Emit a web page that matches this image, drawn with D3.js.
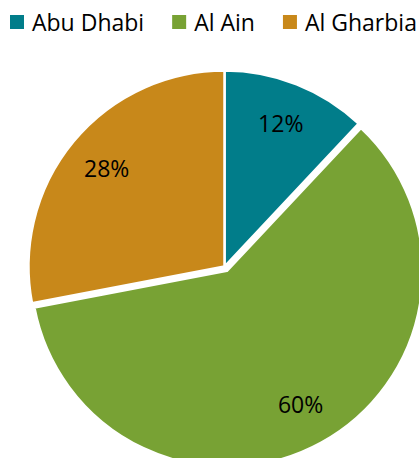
<!DOCTYPE html>
<html>
<head>
<meta charset="utf-8">
<script src="https://cdn.jsdelivr.net/npm/d3@7"></script>
<style>
  body { margin: 0; background: #fff; }
  text { font-family: "Open Sans", sans-serif; }
</style>
</head>
<body>
<svg id="chart"></svg>
<script>
const regions = ['Abu Dhabi', 'Al Ain', 'Al Gharbia'];
const shares = [12, 60, 28];
const colours = ['#017D8A', '#78A234', '#C8881A'];
const exploded = ['Al Ain'];

const width = 419;
const height = 458;
const cx = 224.5;
const cy = 266.5;
const radius = 196;
const explodeBy = 5;

const svg = d3.select('#chart')
    .attr('width', width)
    .attr('height', height);

const colour = d3.scaleOrdinal().domain(regions).range(colours);

const rows = regions.map((r, i) => ({ region: r, share: shares[i] }));

const pie = d3.pie()
    .sort(null)
    .value(d => d.share);

const arc = d3.arc()
    .innerRadius(0)
    .outerRadius(radius);

const labelArc = d3.arc()
    .innerRadius(radius * 0.78)
    .outerRadius(radius * 0.78);

const offset = d => {
    if (!exploded.includes(d.data.region)) return [0, 0];
    const a = (d.startAngle + d.endAngle) / 2;
    return [Math.sin(a) * explodeBy, -Math.cos(a) * explodeBy];
};

const slices = svg.append('g')
    .attr('transform', `translate(${cx},${cy})`)
    .selectAll('g')
    .data(pie(rows))
    .enter()
    .append('g')
    .attr('transform', d => `translate(${offset(d)})`);

slices.append('path')
    .attr('d', arc)
    .attr('fill', d => colour(d.data.region))
    .attr('stroke', '#fff')
    .attr('stroke-width', 2.5)
    .attr('stroke-linejoin', 'round');

slices.append('text')
    .attr('transform', d => `translate(${labelArc.centroid(d)})`)
    .attr('text-anchor', 'middle')
    .attr('dy', '0.35em')
    .style('font-size', '23px')
    .attr('fill', '#000')
    .text(d => d.data.share + '%');

// legend
const legend = svg.append('g');
let x = 10;
regions.forEach(r => {
    legend.append('rect')
        .attr('x', x)
        .attr('y', 15)
        .attr('width', 14)
        .attr('height', 14)
        .attr('fill', colour(r));
    const t = legend.append('text')
        .attr('x', x + 22)
        .attr('y', 31)
        .style('font-size', '23px')
        .attr('fill', '#000')
        .text(r);
    x += 22 + t.node().getComputedTextLength() + 28;
});
</script>
</body>
</html>
